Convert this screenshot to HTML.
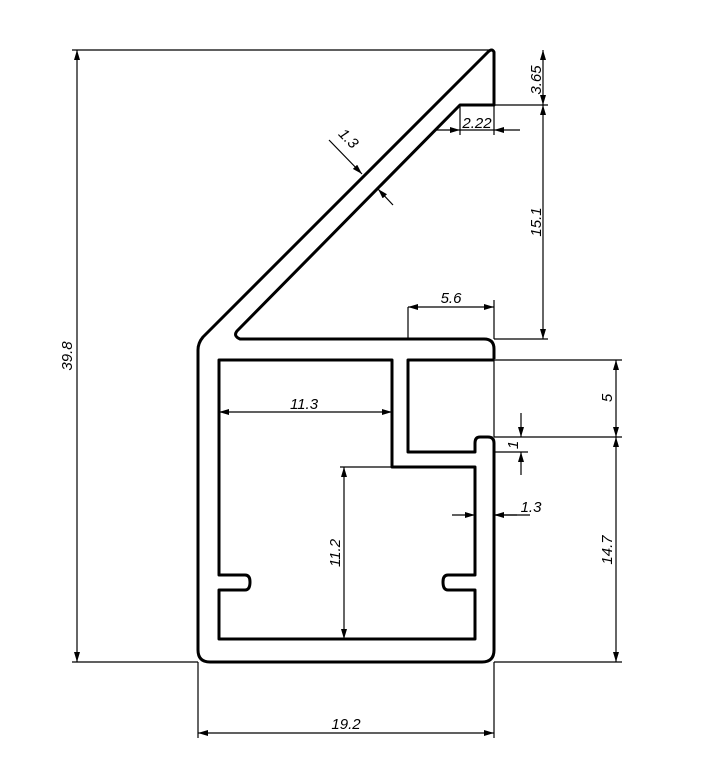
<!DOCTYPE html>
<html><head><style>body{margin:0;background:#fff}svg{display:block}text{font-family:"Liberation Sans",sans-serif;font-style:italic;font-size:15px;fill:#000}</style></head><body>
<svg width="713" height="768" viewBox="0 0 713 768" xmlns="http://www.w3.org/2000/svg">
<defs><marker id="a" viewBox="0 0 10 6" refX="10" refY="3" markerWidth="10" markerHeight="6" orient="auto-start-reverse" markerUnits="userSpaceOnUse"><path d="M0,0L10,3L0,6z" fill="#000"/></marker></defs>
<g fill="none" stroke="#000" stroke-width="3" stroke-linejoin="round">
<path d="M494,359 L494,349 Q494,339 484,339 L240,339 Q233,336 237,331 L460,105 L494,105 L494,52 Q492,48 488,52 L203,337 Q198,343 198,350 L198,650 Q198,662 210,662 L482,662 Q494,662 494,650 L494,443 Q494,437 488,437 L480,437 Q475,437 475,443 L475,452 L408,452 L408,360 L494,360"/>
<path d="M219,360 L392,360 L392,467 L475,467 L475,575 L448,575 Q443,575 443,582 Q443,590 448,590 L475,590 L475,639 L219,639 L219,590 L245,590 Q250,590 250,582 Q250,575 245,575 L219,575 Z"/>
</g>
<g fill="none" stroke="#000" stroke-width="1.2">
<path d="M72,50H490M72,662H198M494,105H548M494,339H548M494,360H622M494,437H622M494,662H622M494,359V437M460,105V135M494,105V135M408,307V339M494,300V339M340,467H392M494,452H528M198,662V738M494,662V738"/>
<line x1="77" y1="50" x2="77" y2="662" marker-start="url(#a)" marker-end="url(#a)"/>
<line x1="543" y1="50" x2="543" y2="105" marker-start="url(#a)" marker-end="url(#a)"/>
<line x1="543" y1="105" x2="543" y2="339" marker-start="url(#a)" marker-end="url(#a)"/>
<line x1="616" y1="360" x2="616" y2="437" marker-start="url(#a)" marker-end="url(#a)"/>
<line x1="616" y1="437" x2="616" y2="662" marker-start="url(#a)" marker-end="url(#a)"/>
<line x1="408" y1="307" x2="494" y2="307" marker-start="url(#a)" marker-end="url(#a)"/>
<line x1="219" y1="412" x2="392" y2="412" marker-start="url(#a)" marker-end="url(#a)"/>
<line x1="344" y1="467" x2="344" y2="639" marker-start="url(#a)" marker-end="url(#a)"/>
<line x1="198" y1="733" x2="494" y2="733" marker-start="url(#a)" marker-end="url(#a)"/>
<line x1="436" y1="130" x2="460" y2="130" marker-end="url(#a)"/>
<line x1="520" y1="130" x2="494" y2="130" marker-end="url(#a)"/>
<line x1="521" y1="413" x2="521" y2="437" marker-end="url(#a)"/>
<line x1="521" y1="475" x2="521" y2="452" marker-end="url(#a)"/>
<line x1="452" y1="515" x2="475" y2="515" marker-end="url(#a)"/>
<line x1="517" y1="515" x2="494" y2="515" marker-end="url(#a)"/>
<line x1="329" y1="140" x2="362" y2="174" marker-end="url(#a)"/>
<line x1="393" y1="205" x2="378" y2="189" marker-end="url(#a)"/>
<path d="M460,130H494M494,515H530"/>
</g>
<text transform="translate(72,356) rotate(-90)" text-anchor="middle">39.8</text>
<text transform="translate(541,80) rotate(-90)" text-anchor="middle">3.65</text>
<text transform="translate(541,222) rotate(-90)" text-anchor="middle">15.1</text>
<text transform="translate(612,398) rotate(-90)" text-anchor="middle">5</text>
<text transform="translate(612,550) rotate(-90)" text-anchor="middle">14.7</text>
<text transform="translate(518,445) rotate(-90)" text-anchor="middle">1</text>
<text transform="translate(340,553) rotate(-90)" text-anchor="middle">11.2</text>
<text transform="translate(345,142) rotate(45)" text-anchor="middle">1.3</text>
<text x="477" y="128" text-anchor="middle">2.22</text>
<text x="451" y="303" text-anchor="middle">5.6</text>
<text x="304" y="409" text-anchor="middle">11.3</text>
<text x="531" y="512" text-anchor="middle">1.3</text>
<text x="346" y="729" text-anchor="middle">19.2</text>
</svg>
</body></html>
